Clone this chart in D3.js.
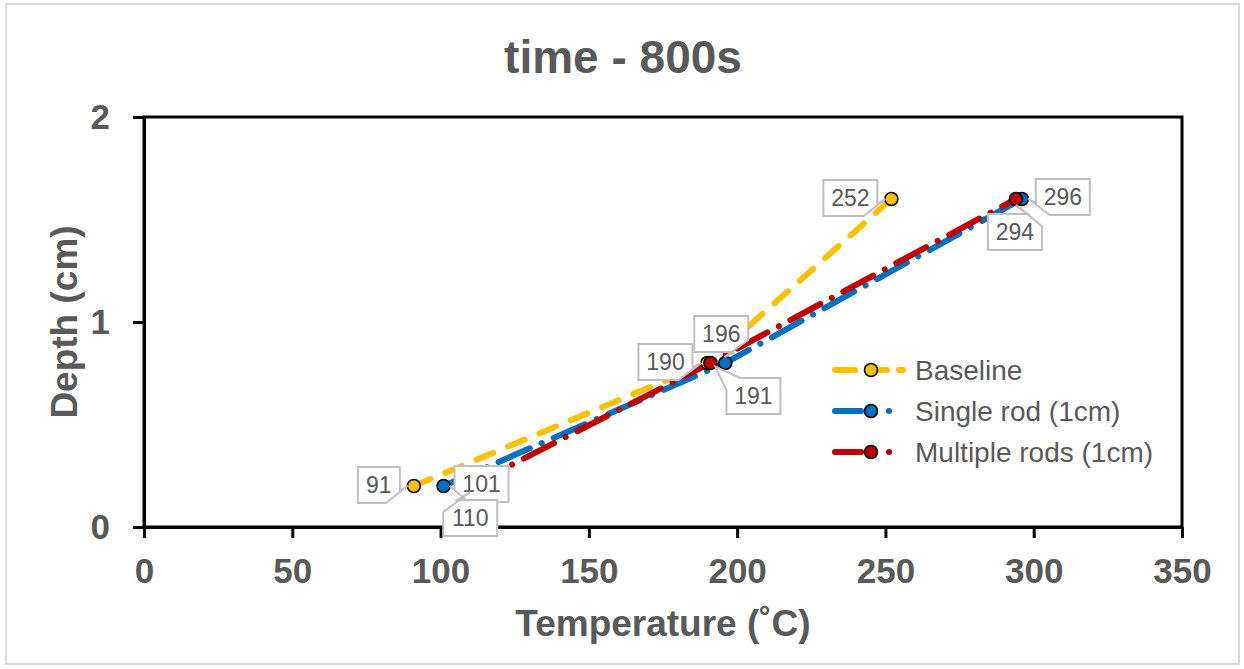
<!DOCTYPE html>
<html>
<head>
<meta charset="utf-8">
<script src="https://cdn.jsdelivr.net/npm/d3@7"></script>
<style>
  body { margin: 0; background: #fff; }
  text { font-family: "Liberation Sans", Arial, sans-serif; }
</style>
</head>
<body>
<script>
// chart values
const seriesNames = ["Baseline", "Single rod (1cm)", "Multiple rods (1cm)"];
const depth = [0.2, 0.8, 1.6];
const baseline = [91, 190, 252];
const singleRod = [101, 196, 296];
const multipleRods = [110, 191, 294];
const xTicks = [0, 50, 100, 150, 200, 250, 300, 350];
const yTicks = [0, 1, 2];

const colours = ["#FFC000", "#0070C0", "#C00000"];
const dashes = ["18,16", "34,13,0.1,13", "34,13,0.1,13"];
// where each data label box sits, relative to its point (px)
const labelOffsets = [
  [[-35, -1], [-42, -1], [-41, -1]],
  [[38, -2], [-4, -29], [41, -2]],
  [[0, 32], [43, 33], [-1, 33]]
];

const width = 1244, height = 669;
const margin = {top: 117, right: 62, bottom: 142, left: 144};
const grey = "#595959";

var svg = d3.select("body").append("svg")
  .attr("width", width)
  .attr("height", height);

// outer chart frame
svg.append("rect")
  .attr("x", 6).attr("y", 4)
  .attr("width", 1233).attr("height", 660)
  .attr("fill", "#fff")
  .attr("stroke", "#D9D9D9")
  .attr("stroke-width", 2);

let x = d3.scaleLinear().domain([0, 350]).range([margin.left, width - margin.right]);
let y = d3.scaleLinear().domain([0, 2]).range([height - margin.bottom, margin.top]);

svg.append("text")
  .attr("x", 623)
  .attr("y", 73)
  .attr("text-anchor", "middle")
  .style("font-size", "46px")
  .style("font-weight", "bold")
  .style("fill", grey)
  .text("time - 800s");

// plot box
svg.append("rect")
  .attr("x", x(0)).attr("y", y(2))
  .attr("width", x(350) - x(0)).attr("height", y(0) - y(2))
  .attr("fill", "none")
  .attr("stroke", "#000")
  .attr("stroke-width", 3);

let xAxis = d3.axisBottom(x).tickValues(xTicks).tickSize(11).tickSizeOuter(0).tickPadding(20);
let yAxis = d3.axisLeft(y).tickValues(yTicks).tickSize(11).tickSizeOuter(0).tickPadding(23).tickFormat(d3.format("d"));

const gx = svg.append("g").attr("transform", `translate(0,${y(0)})`).call(xAxis);
const gy = svg.append("g").attr("transform", `translate(${x(0)},0)`).call(yAxis);
[gx, gy].forEach(g => {
  g.select(".domain").attr("stroke", "#000").attr("stroke-width", 3);
  g.selectAll(".tick line").attr("stroke", "#000").attr("stroke-width", 3);
  g.selectAll(".tick text")
    .style("font-family", "'Liberation Sans', Arial, sans-serif")
    .style("font-size", "35px")
    .style("font-weight", "bold")
    .style("fill", grey);
});

svg.append("text")
  .attr("x", (x(0) + x(350)) / 2)
  .attr("y", 636)
  .attr("text-anchor", "middle")
  .style("font-size", "37px")
  .style("font-weight", "bold")
  .style("fill", grey)
  .text("Temperature (˚C)");

svg.append("text")
  .attr("transform", `translate(77,${(y(0) + y(2)) / 2}) rotate(-90)`)
  .attr("text-anchor", "middle")
  .style("font-size", "37px")
  .style("font-weight", "bold")
  .style("fill", grey)
  .text("Depth (cm)");

const series = [baseline, singleRod, multipleRods].map((vals, i) => ({
  name: seriesNames[i],
  colour: colours[i],
  dash: dashes[i],
  points: vals.map((v, j) => ({t: v, d: depth[j], off: labelOffsets[i][j]}))
}));

let line = d3.line().x(p => x(p.t)).y(p => y(p.d));

svg.selectAll("path.series")
  .data(series)
  .enter()
  .append("path")
  .attr("class", "series")
  .attr("d", s => line(s.points))
  .attr("fill", "none")
  .attr("stroke", s => s.colour)
  .attr("stroke-width", 6)
  .attr("stroke-linecap", "round")
  .attr("stroke-dasharray", s => s.dash);

series.forEach(s => {
  svg.selectAll(null)
    .data(s.points)
    .enter()
    .append("circle")
    .attr("cx", p => x(p.t))
    .attr("cy", p => y(p.d))
    .attr("r", 6.5)
    .attr("fill", s.colour)
    .attr("stroke", "#000")
    .attr("stroke-width", 1.6);
});

// callout box: rectangle with the corner nearest the point pulled out to it
function calloutPath(w, h, tx, ty) {
  const hw = w / 2, hh = h / 2;
  const corners = [[-hw, -hh], [hw, -hh], [hw, hh], [-hw, hh]];
  let k = 0, best = Infinity;
  corners.forEach((c, i) => {
    const dd = Math.hypot(c[0] - tx, c[1] - ty);
    if (dd < best - 0.5) { best = dd; k = i; }
  });
  const pts = [];
  corners.forEach((c, i) => {
    if (i !== k) { pts.push(c); return; }
    const prev = corners[(i + 3) % 4], next = corners[(i + 1) % 4];
    const step = (a, b) => {
      const len = Math.hypot(b[0] - a[0], b[1] - a[1]);
      const dd = Math.min(14, len / 3);
      return [a[0] + (b[0] - a[0]) / len * dd, a[1] + (b[1] - a[1]) / len * dd];
    };
    pts.push(step(c, prev));
    pts.push([tx, ty]);
    pts.push(step(c, next));
  });
  return "M" + pts.map(p => p.join(",")).join("L") + "Z";
}

series.forEach(s => {
  const g = svg.selectAll(null)
    .data(s.points)
    .enter()
    .append("g")
    .attr("transform", p => `translate(${x(p.t) + p.off[0]},${y(p.d) + p.off[1]})`);
  g.append("path")
    .attr("d", p => {
      const w = String(p.t).length > 2 ? 54 : 42;
      const len = Math.hypot(p.off[0], p.off[1]);
      const tx = -p.off[0] * (len - 6) / len, ty = -p.off[1] * (len - 6) / len;
      return calloutPath(w, 36, tx, ty);
    })
    .attr("fill", "#fff")
    .attr("stroke", "#BFBFBF")
    .attr("stroke-width", 2);
  g.append("text")
    .attr("text-anchor", "middle")
    .attr("y", 8)
    .style("font-size", "23px")
    .style("fill", grey)
    .text(p => p.t);
});

// legend
const legend = svg.append("g").attr("transform", "translate(835,370)");
const rows = legend.selectAll("g")
  .data(series)
  .enter()
  .append("g")
  .attr("transform", (s, i) => `translate(0,${i * 41})`);
rows.append("line")
  .attr("x1", 0).attr("x2", 68)
  .attr("stroke", s => s.colour)
  .attr("stroke-width", 6)
  .attr("stroke-linecap", "round")
  .attr("stroke-dasharray", s => s.dash === dashes[0] ? "20,12" : "26,28,0.1,30");
rows.append("circle")
  .attr("cx", 36)
  .attr("r", 6.5)
  .attr("fill", s => s.colour)
  .attr("stroke", "#000")
  .attr("stroke-width", 1.6);
rows.append("text")
  .attr("x", 80)
  .attr("y", 10)
  .style("font-size", "28px")
  .style("fill", grey)
  .text(s => s.name);
</script>
</body>
</html>
